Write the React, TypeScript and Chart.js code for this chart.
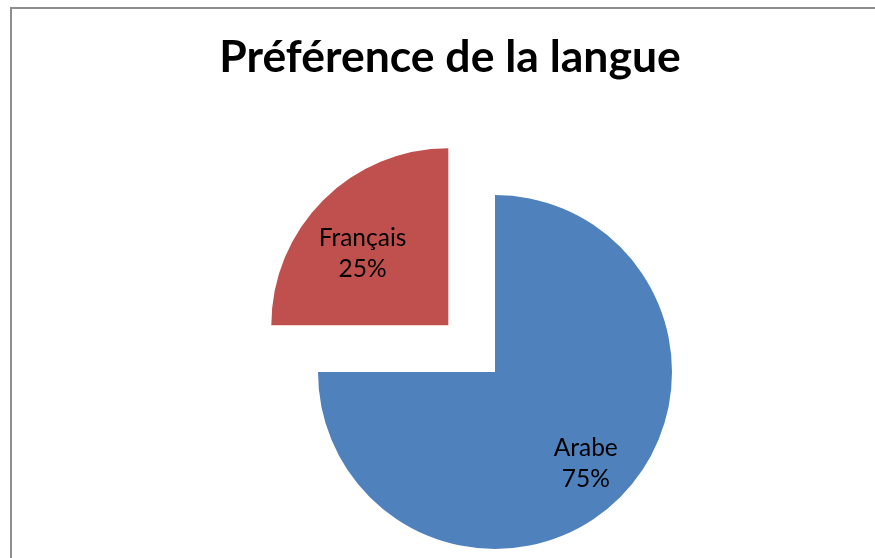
import React, { useEffect, useRef } from "react";
import { Chart, registerables } from "chart.js";

Chart.register(...registerables);

const TITLE = "Préférence de la langue";
const categories = ["Arabe", "Français"];
const values = [75, 25];
const percentLabels = ["75%", "25%"];
const sliceColors = ["#4F81BD", "#C0504D"];
const sliceOffsets = [0, 264];
const labelFactors = [0.725, 0.633];
const labelAngleShiftDeg = [0, -5];

export default function App() {
  const ref = useRef<HTMLCanvasElement | null>(null);

  useEffect(() => {
    document.body.style.margin = "0";
    document.body.style.overflow = "hidden";
    document.documentElement.style.overflow = "hidden";
    const canvas = ref.current;
    if (!canvas) return;

    const framePlugin = {
      id: "frame",
      beforeDraw(chart: any) {
        const ctx = chart.ctx;
        ctx.save();
        ctx.fillStyle = "#ffffff";
        ctx.fillRect(0, 0, chart.width, chart.height);
        ctx.strokeStyle = "#8E8E8E";
        ctx.lineWidth = 2;
        ctx.beginPath();
        ctx.moveTo(11, chart.height + 5);
        ctx.lineTo(11, 8);
        ctx.lineTo(chart.width + 5, 8);
        ctx.stroke();
        ctx.fillStyle = "#000000";
        ctx.font = "bold 44.5px Lato";
        ctx.textAlign = "center";
        ctx.textBaseline = "alphabetic";
        ctx.fillText(TITLE, 450, 72);
        ctx.restore();
      },
    };

    const labelPlugin = {
      id: "sliceLabels",
      afterDatasetsDraw(chart: any) {
        const ctx = chart.ctx;
        const meta = chart.getDatasetMeta(0);
        ctx.save();
        ctx.fillStyle = "#000000";
        ctx.font = "24.5px Lato";
        ctx.textAlign = "center";
        ctx.textBaseline = "middle";
        meta.data.forEach((arc: any, i: number) => {
          const p = arc.getProps(["x", "y", "startAngle", "endAngle", "outerRadius"], true);
          const mid = (p.startAngle + p.endAngle) / 2;
          const off = (sliceOffsets[i] || 0) / 4;
          const ox = p.x + Math.cos(mid) * off;
          const oy = p.y + Math.sin(mid) * off;
          const a = mid + (labelAngleShiftDeg[i] * Math.PI) / 180;
          const d = p.outerRadius * labelFactors[i];
          const cx = ox + Math.cos(a) * d;
          const cy = oy + Math.sin(a) * d;
          ctx.fillText(categories[i], cx, cy - 15);
          ctx.fillText(percentLabels[i], cx, cy + 16);
        });
        ctx.restore();
      },
    };

    const chart = new Chart(canvas, {
      type: "pie",
      data: {
        labels: categories,
        datasets: [
          {
            data: values,
            backgroundColor: sliceColors,
            borderWidth: 0,
            offset: sliceOffsets,
            clip: false as any,
          },
        ],
      },
      options: {
        responsive: false,
        animation: false,
        radius: 177,
        layout: { padding: { left: 115, right: 0, top: 186, bottom: 0 } },
        plugins: {
          legend: { display: false },
          title: { display: false },
          tooltip: { enabled: false },
        },
        events: [],
      } as any,
      plugins: [framePlugin, labelPlugin],
    });

    return () => chart.destroy();
  }, []);

  return (
    <canvas
      ref={ref}
      width={875}
      height={558}
      style={{ display: "block", width: 875, height: 558 }}
    />
  );
}
